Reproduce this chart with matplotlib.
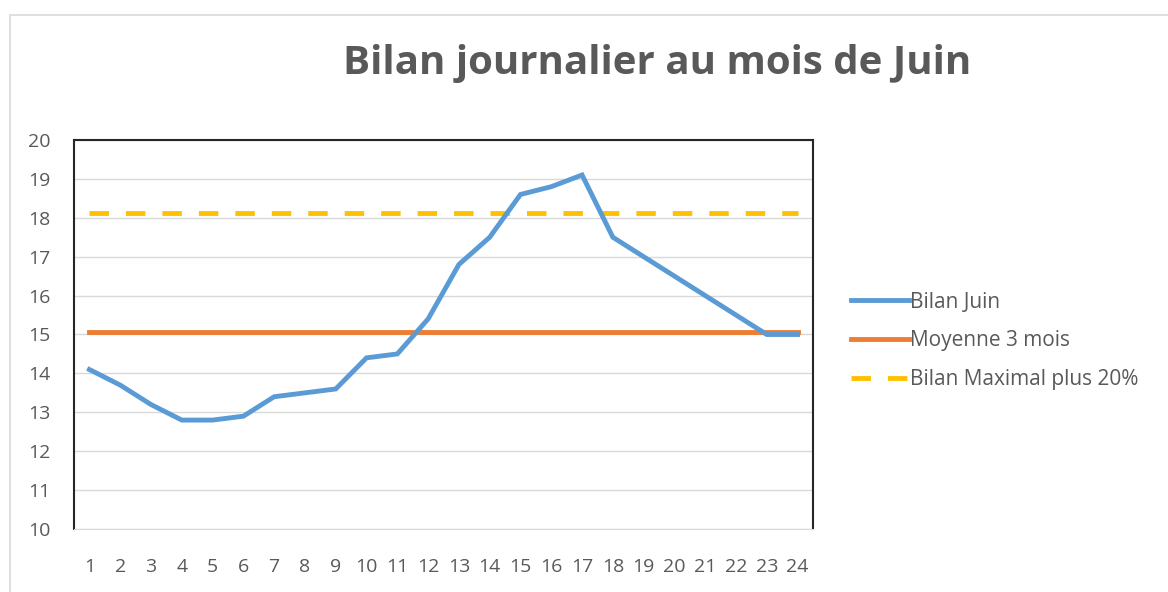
import numpy as np
import matplotlib.pyplot as plt
from matplotlib.patches import Rectangle

# daily values for June
jours = list(range(1, 25))
bilan_juin = [14.1, 13.7, 13.2, 12.8, 12.8, 12.9, 13.4, 13.5, 13.6, 14.4, 14.5, 15.4,
              16.8, 17.5, 18.6, 18.8, 19.1, 17.5, 17.0, 16.5, 16.0, 15.5, 15.0, 15.0]
moyenne_3_mois = 15.07
bilan_max_20 = 18.12

titre = "Bilan journalier au mois de Juin"
labels = ["Bilan Juin", "Moyenne 3 mois", "Bilan Maximal plus 20%"]

grey_txt = "#595959"
plt.rcParams['font.family'] = ['Open Sans', 'DejaVu Sans']

fig = plt.figure(figsize=(11.68, 5.92), dpi=100)
ax = fig.add_axes([74 / 1168, 1 - 529 / 592, (813 - 74) / 1168, (529 - 140) / 592])

# chart area border
fig.patches.append(Rectangle((10 / 1168, -0.1), 1.2, 1 - 15 / 592 + 0.1,
                             transform=fig.transFigure, fill=False,
                             edgecolor="#D9D9D9", lw=1.2))

x = np.array(jours)
ax.plot(x, bilan_juin, color="#5B9BD5", lw=3.5, solid_joinstyle="miter",
        label=labels[0], zorder=4)
ax.plot(x, [moyenne_3_mois] * len(x), color="#ED7D31", lw=3.5,
        label=labels[1], zorder=3)
ax.plot(x, [bilan_max_20] * len(x), color="#FFC000", lw=3.5,
        dashes=(4, 3.5), label=labels[2], zorder=3)

ax.set_xlim(0.5, 24.5)
ax.set_ylim(10, 20)
ax.set_xticks(x)
ax.set_yticks(range(10, 21))
ax.yaxis.grid(True, color="#D9D9D9", lw=1)
ax.set_axisbelow(True)
ax.tick_params(length=0, labelsize=14, labelcolor=grey_txt)
ax.tick_params(axis='x', pad=21)
ax.tick_params(axis='y', pad=17)

for s in ["left", "top", "right"]:
    ax.spines[s].set_color("#262626")
    ax.spines[s].set_linewidth(1.5)
ax.spines["bottom"].set_color("#D9D9D9")

fig.text(0.563, 0.893, titre, ha="center", va="center", fontsize=29,
         fontweight="bold", color=grey_txt)

leg = fig.legend(loc="center left", bbox_to_anchor=(832 / 1168, 1 - 341 / 592),
                 frameon=False, fontsize=15, handlelength=2.8, handletextpad=0.05,
                 labelspacing=0.85)
for t in leg.get_texts():
    t.set_color(grey_txt)

fig.savefig("out.png", dpi=100)
